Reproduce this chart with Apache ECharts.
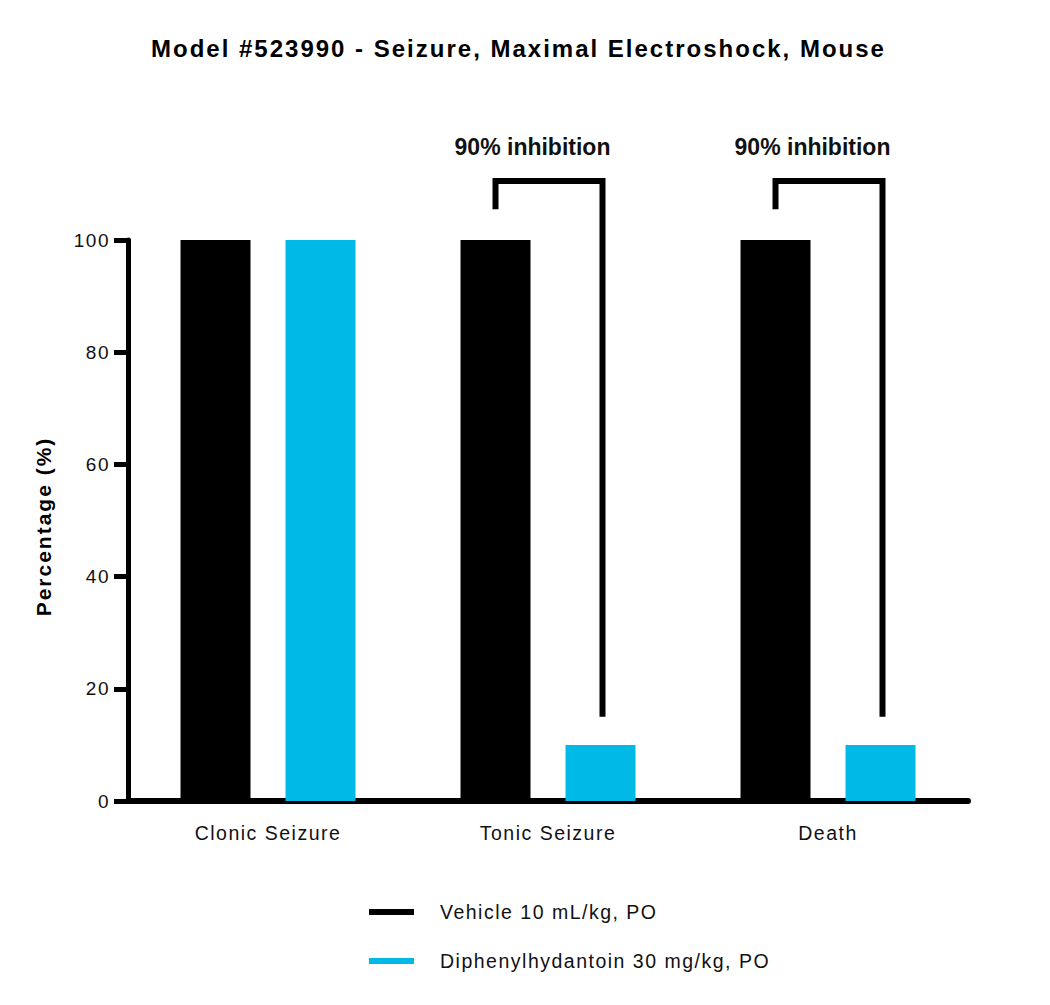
<!DOCTYPE html>
<html>
<head>
<meta charset="utf-8">
<script src="https://cdn.jsdelivr.net/npm/echarts@6/dist/echarts.min.js"></script>
<style>
  html, body { margin: 0; padding: 0; background: #fff; }
  #chart { width: 1050px; height: 1005px; }
  /* the source figure uses loose tracking on most of its text */
  #chart text[style*="24px"] { letter-spacing: 2px; }
  #chart text[style*="21px"] { letter-spacing: 2px; }
  #chart text[style*="19.5px"] { letter-spacing: 1.5px; }
  #chart text[style*="19px"] { letter-spacing: 1.5px; }
</style>
</head>
<body>
<div id="chart"></div>
<script>
// data
const categories = ['Clonic Seizure', 'Tonic Seizure', 'Death'];
const vehicleValues = [100, 100, 100];
const drugValues = [100, 10, 10];
const seriesNames = ['Vehicle 10 mL/kg, PO', 'Diphenylhydantoin 30 mg/kg, PO'];
const yTicks = [0, 20, 40, 60, 80, 100];

// brackets: category index, left leg bottom, top, right leg bottom, label
const bracketCats = [1, 2];
const bracketLeftEnd = [105.5, 105.5];
const bracketTop = [110.5, 110.5];
const bracketRightEnd = [15, 15];
const bracketLabels = ['90% inhibition', '90% inhibition'];
const labelLevel = 116.5;

const FONT = 'Liberation Sans, Arial, Helvetica, sans-serif';
const BAR_W = 70;
const BAR_GAP = 0.5; // fraction of bar width

let chart = echarts.init(document.getElementById('chart'), null, { renderer: 'svg' });

const half = (BAR_W + BAR_W * BAR_GAP) / 2;

chart.setOption({
  backgroundColor: '#fff',
  animation: false,
  title: {
    text: 'Model #523990 - Seizure, Maximal Electroshock, Mouse',
    left: 146,
    top: 31,
    textStyle: { fontFamily: FONT, fontSize: 24, fontWeight: 'bold', color: '#000' }
  },
  legend: {
    data: seriesNames,
    orient: 'vertical',
    left: 369,
    top: 902,
    padding: 0,
    icon: 'rect',
    itemWidth: 45,
    itemHeight: 6,
    itemGap: 29,
    textStyle: { fontFamily: FONT, fontSize: 19.5, color: '#111', lineHeight: 20, padding: [0, 0, 0, 21] }
  },
  grid: { left: 128, width: 840, top: 240, bottom: 204, containLabel: false },
  xAxis: {
    type: 'category',
    data: categories,
    axisLine: { lineStyle: { color: '#000', width: 6 } },
    axisTick: { alignWithLabel: true, length: 10, lineStyle: { color: '#000', width: 6 } },
    axisLabel: { fontFamily: FONT, fontSize: 19.5, color: '#111', margin: 22 }
  },
  yAxis: {
    type: 'value',
    min: yTicks[0],
    max: yTicks[yTicks.length - 1],
    interval: 20,
    name: 'Percentage (%)',
    nameLocation: 'middle',
    nameGap: 74,
    nameTextStyle: { fontFamily: FONT, fontSize: 21, fontWeight: 'bold', color: '#000', padding: [0, 12, 0, 0] },
    axisLine: { show: true, lineStyle: { color: '#000', width: 5 } },
    axisTick: { show: true, length: 14, lineStyle: { color: '#000', width: 5 } },
    axisLabel: { fontFamily: FONT, fontSize: 19, color: '#111', margin: 18 },
    splitLine: { show: false }
  },
  series: [
    {
      name: seriesNames[0],
      type: 'bar',
      data: vehicleValues,
      barWidth: BAR_W,
      barGap: (BAR_GAP * 100) + '%',
      itemStyle: { color: '#000' }
    },
    {
      name: seriesNames[1],
      type: 'bar',
      data: drugValues,
      barWidth: BAR_W,
      barGap: (BAR_GAP * 100) + '%',
      itemStyle: { color: '#00b9e6' }
    },
    {
      type: 'custom',
      clip: false,
      silent: true,
      z: 5,
      data: bracketCats.map((c, i) => [c, bracketLeftEnd[i], bracketTop[i], bracketRightEnd[i], labelLevel]),
      renderItem: function (params, api) {
        const c = api.value(0);
        const x = api.coord([c, 0])[0];
        const yl = api.coord([c, api.value(1)])[1];
        const yt = api.coord([c, api.value(2)])[1];
        const yr = api.coord([c, api.value(3)])[1];
        const ylab = api.coord([c, api.value(4)])[1];
        return {
          type: 'group',
          children: [
            {
              type: 'polyline',
              shape: { points: [[x - half, yl], [x - half, yt], [x + half + 2, yt], [x + half + 2, yr]] },
              style: { stroke: '#000', lineWidth: 6, fill: null, lineJoin: 'miter', lineCap: 'butt' }
            },
            {
              type: 'text',
              x: x - 15.5,
              y: ylab,
              style: {
                text: bracketLabels[params.dataIndex],
                fontFamily: FONT, fontSize: 23, fontWeight: 'bold', fill: '#111',
                align: 'center', verticalAlign: 'middle'
              }
            }
          ]
        };
      }
    }
  ]
});
</script>
</body>
</html>
